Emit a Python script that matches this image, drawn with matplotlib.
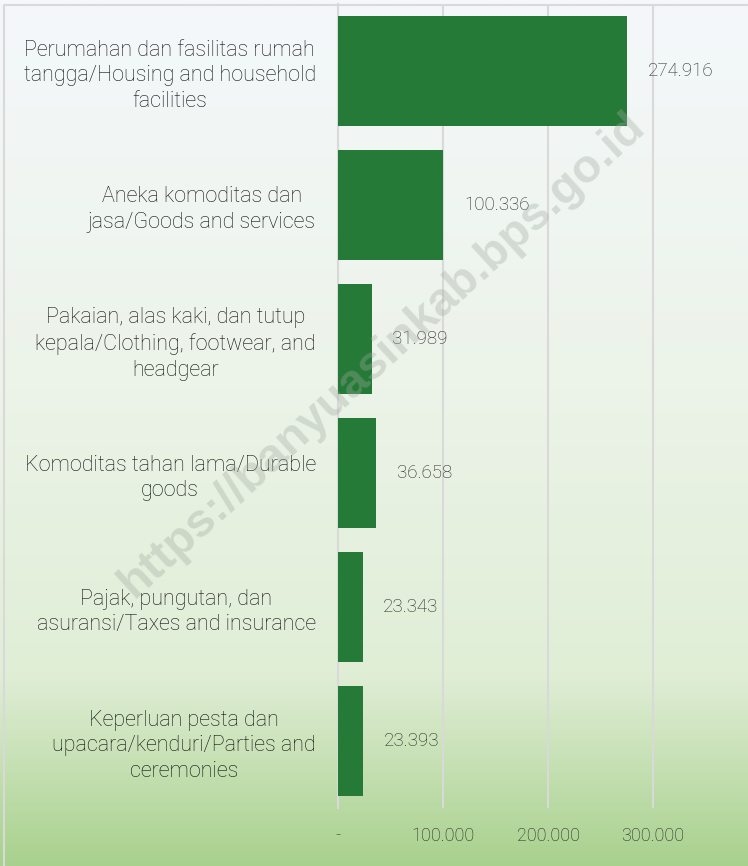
import numpy as np
import matplotlib
matplotlib.use("Agg")
import matplotlib.pyplot as plt
from matplotlib.colors import LinearSegmentedColormap
from matplotlib.ticker import FixedLocator, FuncFormatter

# data (top to bottom as shown)
categories = [
    "Perumahan dan fasilitas rumah\ntangga/Housing and household\nfacilities",
    "Aneka komoditas dan\njasa/Goods and services",
    "Pakaian, alas kaki, dan tutup\nkepala/Clothing, footwear, and\nheadgear",
    "Komoditas tahan lama/Durable\ngoods",
    "Pajak, pungutan, dan\nasuransi/Taxes and insurance",
    "Keperluan pesta dan\nupacara/kenduri/Parties and\nceremonies",
]
values = [274916, 100336, 31989, 36658, 23343, 23393]
value_labels = ["274.916", "100.336", "31.989", "36.658", "23.343", "23.393"]
x_ticks = [0, 100000, 200000, 300000]
x_tick_labels = ["-", "100.000", "200.000", "300.000"]

plt.rcParams['font.family'] = ['Roboto', 'DejaVu Sans']
plt.rcParams['font.weight'] = 'light'

fig = plt.figure(figsize=(7.48, 8.66), dpi=100)

# background gradient
bg = fig.add_axes([0, 0, 1, 1], zorder=-10)
cmap = LinearSegmentedColormap.from_list("bg", [
    (0.0, (244/255, 248/255, 251/255)),
    (0.45, (236/255, 243/255, 232/255)),
    (0.78, (224/255, 238/255, 214/255)),
    (1.0, (169/255, 209/255, 142/255)),
])
grad = np.linspace(0, 1, 400).reshape(-1, 1)
bg.imshow(grad, aspect='auto', cmap=cmap, extent=[0, 1, 0, 1], origin='upper')
bg.set_xlim(0, 1)
bg.set_ylim(0, 1)
bg.axis('off')
bg.plot([0.006, 0.006, 0.999], [0, 0.994, 0.994], color='#d9d9d9', lw=1.5)

ax = fig.add_axes([338/748, 1 - 808/866, 367.5/748, 804/866])
ax.patch.set_alpha(0)
y = np.arange(len(categories))
ax.barh(y, values, height=0.82, color='#267a38', zorder=3)
ax.set_ylim(len(categories) - 0.5, -0.5)
ax.set_xlim(0, 350000)

for yi, v, lab in zip(y, values, value_labels):
    ax.annotate(lab, (v, yi), xytext=(15, 0), textcoords='offset points',
                ha='left', va='center', fontsize=13.5, color='#262626', zorder=4)

ax.set_yticks(y)
ax.set_yticklabels(categories, fontsize=15.5, color='#111111', ha='right',
                   multialignment='center', linespacing=1.3)
ax.tick_params(axis='y', length=0, pad=16)

ax.xaxis.set_major_locator(FixedLocator(x_ticks))
ax.xaxis.set_major_formatter(FuncFormatter(lambda v, p: x_tick_labels[x_ticks.index(int(v))] if int(v) in x_ticks else ""))
ax.tick_params(axis='x', length=0, pad=14, labelsize=13, labelcolor='#262626')
ax.grid(axis='x', color='#d9d9d9', lw=1.5, zorder=0)
ax.set_axisbelow(True)
for s in ['top', 'right', 'bottom']:
    ax.spines[s].set_visible(False)
ax.spines['left'].set_color('#d9d9d9')
ax.spines['left'].set_linewidth(1.5)

# watermark
fig.text(382/748, 1 - 355/866, "https://banyuasinkab.bps.go.id", rotation=42.5,
         ha='center', va='center', fontsize=34, fontweight='bold',
         family='Liberation Sans', color='#a0aaa0', alpha=0.35, zorder=10)

fig.savefig("out.png", dpi=100)
